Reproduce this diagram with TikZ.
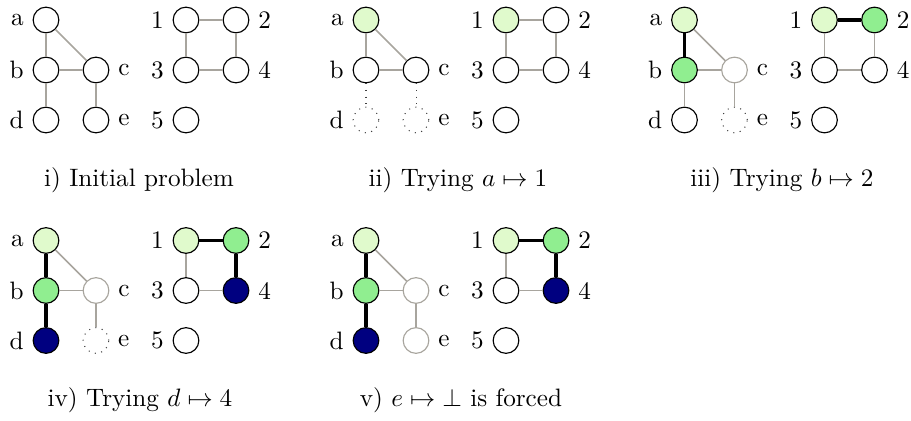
\documentclass[tikz,border=0pt]{standalone}
\definecolor{lgr}{HTML}{E0FACC}
\definecolor{mgr}{HTML}{90EE90}
\definecolor{nvy}{HTML}{000080}
\definecolor{egr}{HTML}{A8A59E}
\tikzset{
  vtx/.style={circle, draw=black, line width=0.45pt, minimum size=10.2pt, inner sep=0pt, fill=white, label distance=1.6pt},
  lgv/.style={fill=lgr},
  mgv/.style={fill=mgr},
  nvv/.style={fill=nvy},
  grv/.style={draw=egr},
  dotv/.style={draw=black!75, line width=0.4pt, dash pattern=on 0.4pt off 2.2pt},
  edge/.style={draw=egr, line width=0.6pt},
  thk/.style={draw=black, line width=1.2pt},
  dote/.style={draw=black!75, line width=0.4pt, dash pattern=on 0.4pt off 2.2pt},
  sa/.style={}, sb/.style={}, sc/.style={}, sd/.style={}, se/.style={},
  s1/.style={}, s2/.style={}, s3/.style={}, s4/.style={}, s5/.style={},
  eab/.style={}, eac/.style={}, ebc/.style={}, ebd/.style={}, ece/.style={},
  e12/.style={}, e13/.style={}, e24/.style={}, e34/.style={},
}
\newcommand\drawpanel[3]{%
  \node[vtx, sa, label=left:a]  (#1a) at (0,0) {};
  \node[vtx, sb, label=left:b]  (#1b) at (0,50) {};
  \node[vtx, sc, label=right:c] (#1c) at (50,50) {};
  \node[vtx, sd, label=left:d]  (#1d) at (0,100) {};
  \node[vtx, se, label=right:e] (#1e) at (50,100) {};
  \node[vtx, s1, label=left:1]  (#11) at (140,0) {};
  \node[vtx, s2, label=right:2] (#12) at (190,0) {};
  \node[vtx, s3, label=left:3]  (#13) at (140,50) {};
  \node[vtx, s4, label=right:4] (#14) at (190,50) {};
  \node[vtx, s5, label=left:5]  (#15) at (140,100) {};
  \draw[edge, eab] (#1a) -- (#1b);
  \draw[edge, eac] (#1a) -- (#1c);
  \draw[edge, ebc] (#1b) -- (#1c);
  \draw[edge, ebd] (#1b) -- (#1d);
  \draw[edge, ece] (#1c) -- (#1e);
  \draw[edge, e12] (#11) -- (#12);
  \draw[edge, e13] (#11) -- (#13);
  \draw[edge, e24] (#12) -- (#14);
  \draw[edge, e34] (#13) -- (#14);
  \node (#1cap) at (#2,160) {#3};
}
\begin{document}
\begin{tikzpicture}[x=0.397pt, y=-0.397pt]
\useasboundingbox (0,0) rectangle (911,420);
\begin{scope}[shift={(46,20)}]
  \drawpanel{P}{93}{i) Initial problem}
\end{scope}
\begin{scope}[shift={(366,20)},
  sa/.style={lgv}, s1/.style={lgv},
  sd/.style={dotv}, se/.style={dotv},
  ebd/.style={dote}, ece/.style={dote}]
  \drawpanel{Q}{92}{ii) Trying $a\mapsto 1$}
\end{scope}
\begin{scope}[shift={(684.5,20)},
  sa/.style={lgv}, sb/.style={mgv}, sc/.style={grv}, se/.style={dotv},
  s1/.style={lgv}, s2/.style={mgv},
  eab/.style={thk}, e12/.style={thk}]
  \drawpanel{R}{97.5}{iii) Trying $b\mapsto 2$}
\end{scope}
\begin{scope}[shift={(46,240.5)},
  sa/.style={lgv}, sb/.style={mgv}, sc/.style={grv}, sd/.style={nvv}, se/.style={dotv},
  s1/.style={lgv}, s2/.style={mgv}, s4/.style={nvv},
  eab/.style={thk}, ebd/.style={thk}, e12/.style={thk}, e24/.style={thk}]
  \drawpanel{S}{94}{iv) Trying $d\mapsto 4$}
\end{scope}
\begin{scope}[shift={(366,240.5)},
  sa/.style={lgv}, sb/.style={mgv}, sc/.style={grv}, sd/.style={nvv}, se/.style={grv},
  s1/.style={lgv}, s2/.style={mgv}, s4/.style={nvv},
  eab/.style={thk}, ebd/.style={thk}, e12/.style={thk}, e24/.style={thk}]
  \drawpanel{T}{95}{v) $e\mapsto\bot$ is forced}
\end{scope}
\end{tikzpicture}
\end{document}
